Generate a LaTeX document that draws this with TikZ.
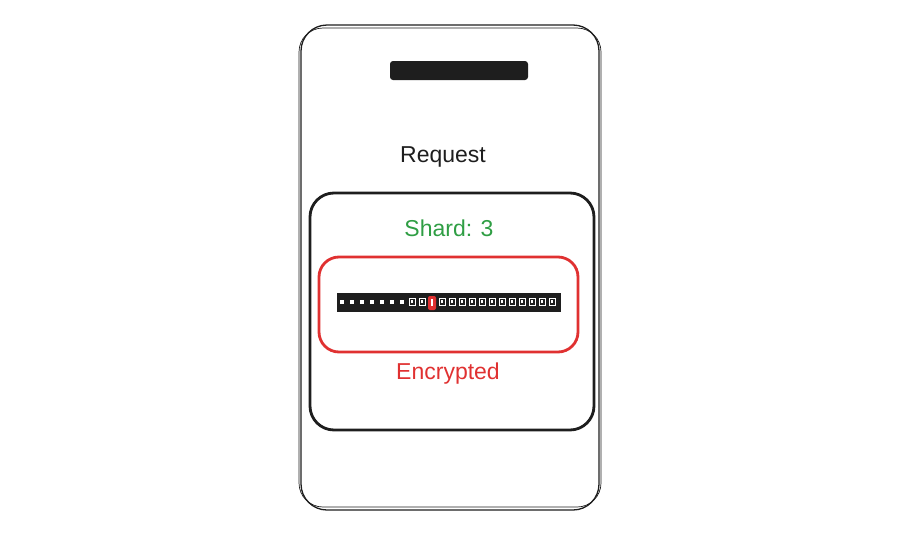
\documentclass[tikz,border=0pt]{standalone}
\usepackage{fontspec}
\setmainfont{Liberation Sans}
\definecolor{inkblack}{HTML}{1E1E1E}
\definecolor{inkgreen}{HTML}{2F9E44}
\definecolor{inkred}{HTML}{E03131}
\tikzset{
  labeltext/.style={font=\fontsize{23}{27}\selectfont, inner sep=0pt},
  cellbox/.style={fill=white, draw=white, line width=0.3pt}
}
\begin{document}
\begin{tikzpicture}[x=1pt,y=-1pt]
\useasboundingbox (0,0) rectangle (900,536);
% phone body, traced twice for the sketchy look
\draw[inkblack, line width=1.3pt, rounded corners=26] (301,25) rectangle (599,510);
\draw[inkblack, line width=0.7pt, rounded corners=24] (299,28) rectangle (601,507);
% speaker slot
\fill[inkblack, rounded corners=3] (390,61) rectangle (528,80);
\node[labeltext, text=inkblack] (request) at (443,157) {Request};
% request card
\draw[inkblack, line width=2.8pt, rounded corners=24] (310,193) rectangle (594,430);
\node[labeltext, text=inkgreen] (shard) at (449,228) {Shard: 3};
\draw[inkred, line width=2.8pt, rounded corners=20] (319,257) rectangle (578,352);
% encrypted byte strip
\fill[inkblack] (337,293) rectangle (561,312);
\foreach \i in {0,...,21} {
  \ifnum\i=9
    \fill[inkred, rounded corners=2] (338+10*\i,296) rectangle (346+10*\i,310);
    \fill[white] (341+10*\i,299) rectangle (343+10*\i,306);
  \else
    \ifnum\i<7
      \fill[white] (340+10*\i,300) rectangle (344+10*\i,304);
    \else
      \draw[cellbox, fill=none] (339+10*\i,298) rectangle (345+10*\i,305);
      \fill[white] (341+10*\i,300) rectangle (343+10*\i,303);
    \fi
  \fi
}
\node[labeltext, text=inkred] (encrypted) at (448,374) {Encrypted};
\end{tikzpicture}
\end{document}
